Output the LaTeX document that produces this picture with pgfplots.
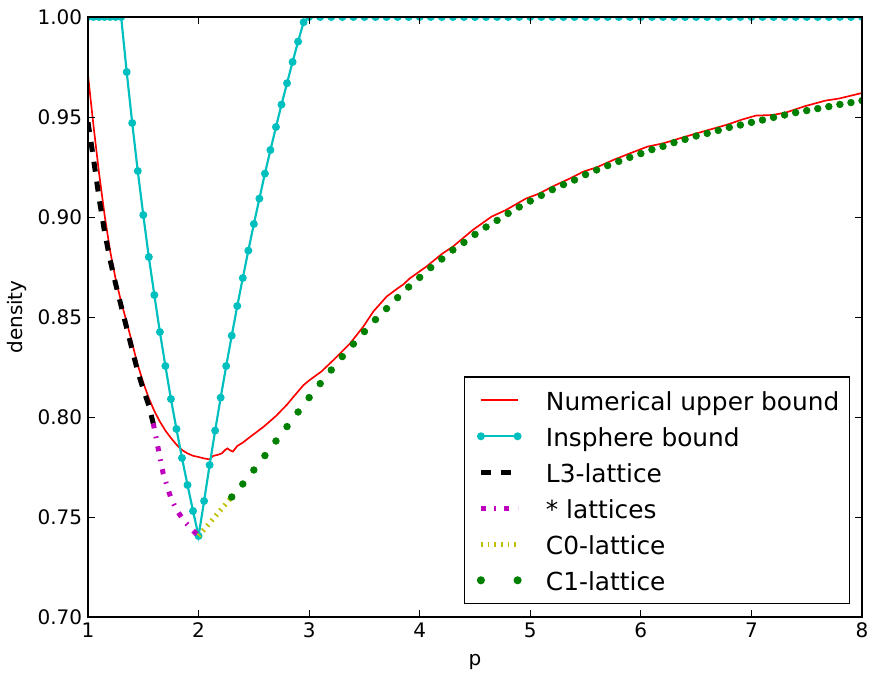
\documentclass[border=0pt]{standalone}
\usepackage{fontspec}
\setmainfont{DejaVu Sans}
\usepackage{pgfplots}
\pgfplotsset{compat=1.18}
\definecolor{mplred}{rgb}{1,0,0}
\definecolor{mplcyan}{rgb}{0,0.75,0.75}
\definecolor{mplmag}{rgb}{0.75,0,0.75}
\definecolor{mplyel}{rgb}{0.75,0.75,0}
\definecolor{mplgreen}{rgb}{0,0.5,0}
% invisible path that sets the width of each legend sample
\newcommand{\legspace}{\path[draw=none,fill=none] (-9pt,0) -- (34pt,0);}

\begin{document}
\begin{tikzpicture}
\begin{axis}[scale only axis,width=464.4pt,height=360pt,
  xmin=1,xmax=8,ymin=0.70,ymax=1.00,
  xtick={1,2,3,4,5,6,7,8},
  ytick={0.70,0.75,0.80,0.85,0.90,0.95,1.00},
  yticklabel style={/pgf/number format/.cd,fixed,fixed zerofill,precision=2},
  /pgf/number format/assume math mode=true,
  tick label style={font=\fontsize{12}{14}\selectfont},
  label style={font=\fontsize{12}{14}\selectfont},
  xlabel={p},ylabel={density},
  xlabel style={at={(axis description cs:0.5,0)},anchor=center,yshift=-27pt},
  ylabel style={at={([xshift=-42.6pt]axis description cs:0,0.5)},anchor=center},
  tick align=inside,tick pos=both,major tick length=4pt,
  tick style={black,line width=0.5pt},
  axis line style={line width=1pt},
  axis on top,clip marker paths=true,
  legend cell align=left,
  legend style={at={(0.9845,0.0212)},anchor=south east,draw=black,line width=0.8pt,
    font=\fontsize{14.9}{18}\selectfont,inner xsep=1pt,inner ysep=3.2pt,row sep=0pt,
    nodes={text height=13.5pt,text depth=1.5pt,inner ysep=3.3pt,inner xsep=5pt}},
]
% Numerical upper bound
\addplot[mplred,line width=1pt,no marks,
  legend image code/.code={\legspace\draw[mplred,line width=1pt] (0pt,0) -- (22pt,0);}]
coordinates {
(1.00,0.9710) (1.05,0.9455) (1.10,0.9220) (1.15,0.9010) (1.20,0.8830) (1.25,0.8690)
(1.30,0.8575) (1.35,0.8475) (1.40,0.8368) (1.45,0.8260) (1.50,0.8172) (1.55,0.8094)
(1.60,0.8030) (1.65,0.7977) (1.70,0.7932) (1.75,0.7895) (1.80,0.7862) (1.85,0.7835)
(1.90,0.7818) (1.95,0.7806) (2.00,0.7800) (2.05,0.7793) (2.10,0.7788) (2.13,0.7805)
(2.18,0.7812) (2.21,0.7818) (2.24,0.7835) (2.26,0.7843) (2.29,0.7832) (2.31,0.7827)
(2.35,0.7855) (2.40,0.7872) (2.47,0.7902) (2.59,0.7952) (2.70,0.8005) (2.80,0.8062)
(2.86,0.8102) (2.95,0.8160) (3.01,0.8187) (3.11,0.8227) (3.22,0.8285) (3.37,0.8368)
(3.49,0.8452) (3.58,0.8527) (3.70,0.8602) (3.80,0.8643) (3.85,0.8662) (3.91,0.8693)
(4.06,0.8752) (4.20,0.8815) (4.30,0.8852) (4.48,0.8935) (4.65,0.9002) (4.78,0.9035)
(4.96,0.9092) (5.08,0.9117) (5.20,0.9152) (5.36,0.9193) (5.48,0.9227) (5.60,0.9248)
(5.75,0.9285) (5.90,0.9318) (6.06,0.9352) (6.20,0.9368) (6.38,0.9398) (6.56,0.9427)
(6.77,0.9460) (6.92,0.9488) (7.04,0.9507) (7.19,0.9510) (7.31,0.9522) (7.49,0.9555)
(7.67,0.9582) (7.79,0.9592) (8.00,0.9620)};
\addlegendentry{Numerical upper bound}
% Insphere bound
\addplot[mplcyan,line width=1.3pt,mark=*,mark size=1.7pt,mark options={solid,fill=mplcyan,draw=mplcyan},
  legend image code/.code={\legspace\draw[mplcyan,line width=1.3pt] (0pt,0) -- (22pt,0);
    \fill[mplcyan] (0pt,0) circle (1.7pt) (22pt,0) circle (1.7pt);}]
coordinates {
(1.00,1) (1.05,1) (1.10,1) (1.15,1) (1.20,1) (1.25,1) (1.30,1)
(1.35,0.9725) (1.40,0.9470) (1.45,0.9230) (1.50,0.9010) (1.55,0.8800) (1.60,0.8610)
(1.65,0.8425) (1.70,0.8255) (1.75,0.8090) (1.80,0.7940) (1.85,0.7795) (1.90,0.7660)
(1.95,0.7530) (2.00,0.7405)
(2.05,0.7580) (2.10,0.7760) (2.15,0.7932) (2.20,0.8097) (2.25,0.8255) (2.30,0.8407)
(2.35,0.8555) (2.40,0.8695) (2.45,0.8832) (2.50,0.8965) (2.55,0.9092) (2.60,0.9217)
(2.65,0.9335) (2.70,0.9450) (2.75,0.9562) (2.80,0.9669) (2.85,0.9775) (2.90,0.9877)
(2.95,0.9974) (3.00,1)
(3.1,1) (3.2,1) (3.3,1) (3.4,1) (3.5,1) (3.6,1) (3.7,1) (3.8,1) (3.9,1) (4.0,1)
(4.1,1) (4.2,1) (4.3,1) (4.4,1) (4.5,1) (4.6,1) (4.7,1) (4.8,1) (4.9,1) (5.0,1)
(5.1,1) (5.2,1) (5.3,1) (5.4,1) (5.5,1) (5.6,1) (5.7,1) (5.8,1) (5.9,1) (6.0,1)
(6.1,1) (6.2,1) (6.3,1) (6.4,1) (6.5,1) (6.6,1) (6.7,1) (6.8,1) (6.9,1) (7.0,1)
(7.1,1) (7.2,1) (7.3,1) (7.4,1) (7.5,1) (7.6,1) (7.7,1) (7.8,1) (7.9,1) (8.0,1)};
\addlegendentry{Insphere bound}
% L3-lattice
\addplot[black,line width=3pt,dash pattern=on 6pt off 6pt,no marks,
  legend image code/.code={\legspace\draw[black,line width=3pt,dash pattern=on 6pt off 6pt] (0pt,0) -- (22pt,0);}]
coordinates {
(1.00,0.9474) (1.05,0.9290) (1.10,0.9095) (1.15,0.8925) (1.20,0.8785) (1.25,0.8665)
(1.30,0.8555) (1.35,0.8445) (1.40,0.8335) (1.45,0.8228) (1.50,0.8138) (1.55,0.8058)
(1.59,0.7968)};
\addlegendentry{L3-lattice}
% * lattices
\addplot[mplmag,line width=3pt,dash pattern=on 3pt off 5pt on 1pt off 5pt,no marks,
  legend image code/.code={\legspace\draw[mplmag,line width=3pt,dash pattern=on 3pt off 5pt on 1pt off 5pt] (0pt,0) -- (22pt,0);}]
coordinates {
(1.59,0.7968) (1.62,0.7885) (1.64,0.7827) (1.66,0.7770) (1.68,0.7718) (1.72,0.7645)
(1.75,0.7595) (1.80,0.7537) (1.86,0.7487) (1.93,0.7443) (2.00,0.7405)};
\addlegendentry{* lattices}
% C0-lattice
\addplot[mplyel,line width=3pt,dash pattern=on 1pt off 3pt,no marks,
  legend image code/.code={\legspace\draw[mplyel,line width=3pt,dash pattern=on 1pt off 3pt] (0pt,0) -- (22pt,0);}]
coordinates {(2.00,0.7405) (2.30,0.7600)};
\addlegendentry{C0-lattice}
% C1-lattice
\addplot[mplgreen,only marks,mark=*,mark size=2pt,mark options={fill=mplgreen,draw=mplgreen},
  legend image code/.code={\legspace\fill[mplgreen] (0pt,0) circle (2pt) (22pt,0) circle (2pt);}]
coordinates {
(2.3,0.7600) (2.4,0.7665) (2.5,0.7735) (2.6,0.7807) (2.7,0.7880) (2.8,0.7952)
(2.9,0.8025) (3.0,0.8097) (3.1,0.8167) (3.2,0.8235) (3.3,0.8302) (3.4,0.8365)
(3.5,0.8427) (3.6,0.8487) (3.7,0.8542) (3.8,0.8597) (3.9,0.8650) (4.0,0.8698)
(4.1,0.8747) (4.2,0.8790) (4.3,0.8835) (4.4,0.8873) (4.5,0.8913) (4.6,0.8950)
(4.7,0.8983) (4.8,0.9018) (4.9,0.9050) (5.0,0.9080) (5.1,0.9108) (5.2,0.9137)
(5.3,0.9162) (5.4,0.9185) (5.5,0.9212) (5.6,0.9235) (5.7,0.9257) (5.8,0.9278)
(5.9,0.9298) (6.0,0.9317) (6.1,0.9337) (6.2,0.9353) (6.3,0.9372) (6.4,0.9388)
(6.5,0.9405) (6.6,0.9418) (6.7,0.9433) (6.8,0.9448) (6.9,0.9460) (7.0,0.9473)
(7.1,0.9485) (7.2,0.9498) (7.3,0.9510) (7.4,0.9522) (7.5,0.9532) (7.6,0.9542)
(7.7,0.9552) (7.8,0.9563) (7.9,0.9572) (8.0,0.9582)};
\addlegendentry{C1-lattice}
\end{axis}
\pgfresetboundingbox
\path[use as bounding box] ([shift={(-52.8pt,-34.2pt)}]current axis.south west) rectangle ([shift={(4.2pt,10.2pt)}]current axis.north east);
\end{tikzpicture}
\end{document}
